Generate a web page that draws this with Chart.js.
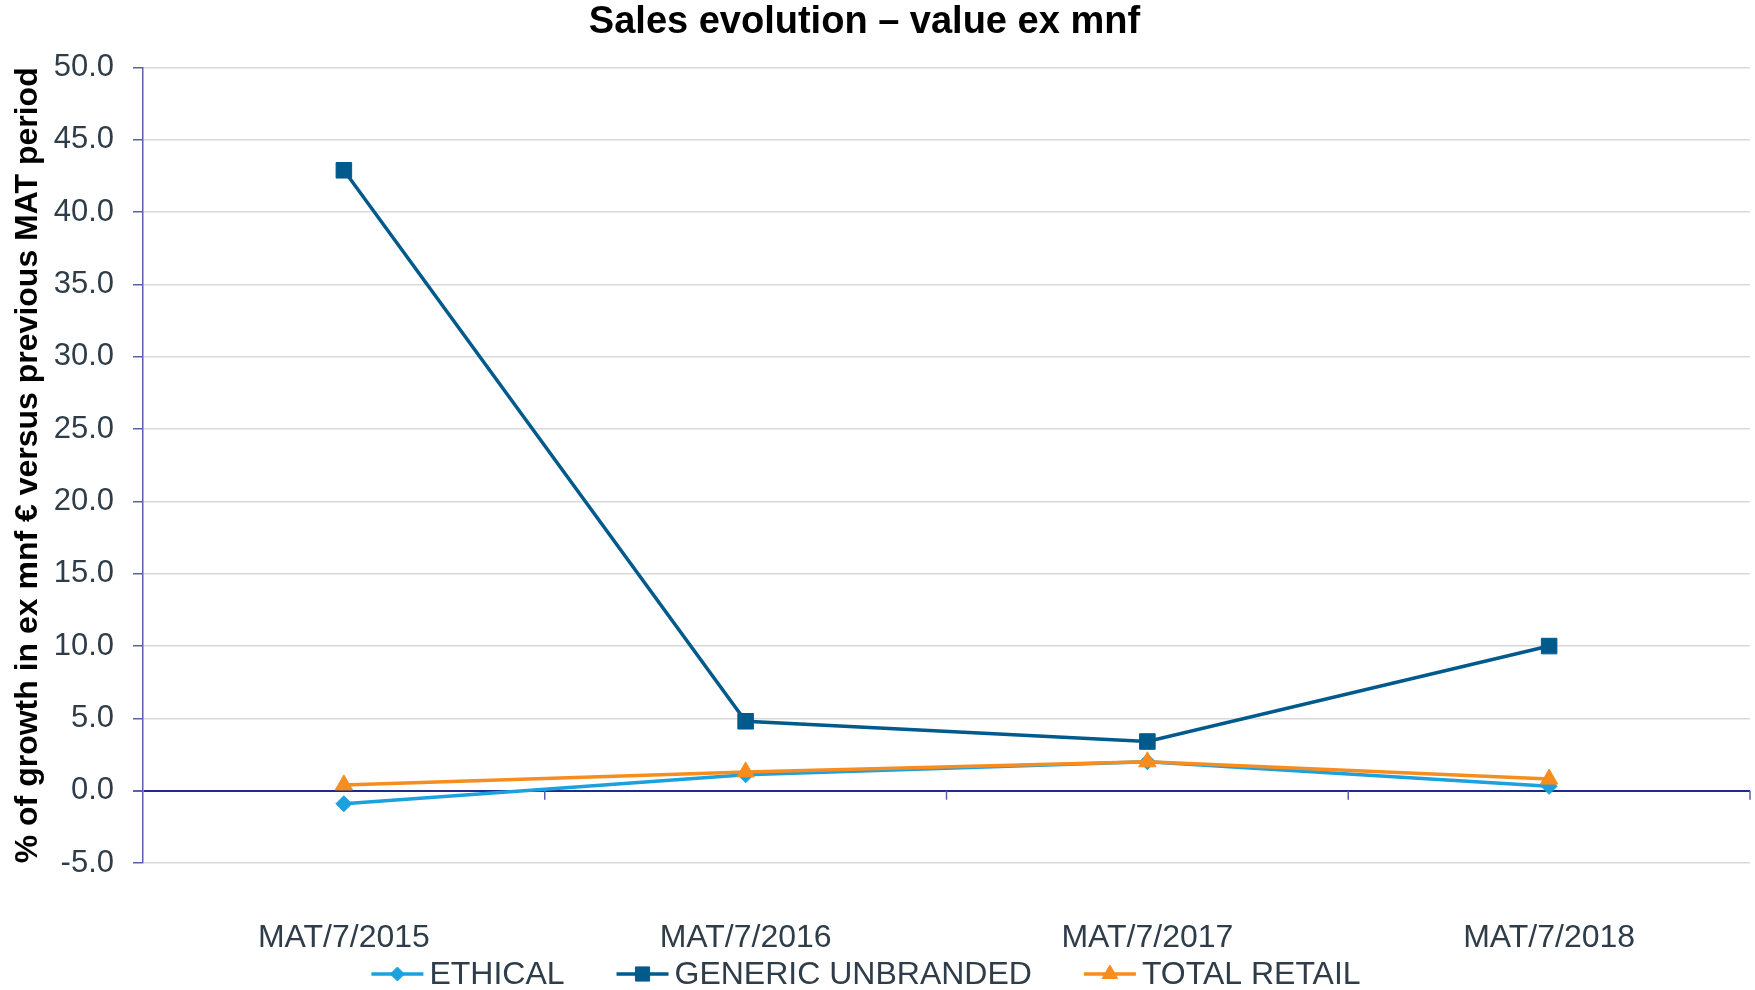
<!DOCTYPE html>
<html>
<head>
<meta charset="utf-8">
<script src="https://cdn.jsdelivr.net/npm/chart.js@4"></script>
<style>
  html, body { margin: 0; padding: 0; background: #fff; overflow: hidden; }
  canvas { display: block; }
</style>
</head>
<body>
<canvas id="salesChart" width="1755" height="990"></canvas>
<script>
const periods = ["MAT/7/2015", "MAT/7/2016", "MAT/7/2017", "MAT/7/2018"];
const ethical = [-0.9, 1.1, 2.0, 0.3];
const genericUnbranded = [42.9, 4.8, 3.4, 10.0];
const totalRetail = [0.4, 1.3, 2.0, 0.8];
const yMin = -5, yMax = 50, yStep = 5;

const FONT = '"Liberation Sans", Arial, sans-serif';
const TEXT = "#2e3d49";
const AXIS = "#5b60a8";
const ZERO = "#1e2a8c";

// small downward tick marks on the zero line, at category boundaries
const zeroTicks = {
  id: "zeroTicks",
  beforeDatasetsDraw(chart) {
    const x = chart.scales.x, y = chart.scales.y, ctx = chart.ctx;
    const y0 = y.getPixelForValue(0);
    const px = periods.map((p, i) => x.getPixelForValue(i));
    const half = (px[1] - px[0]) / 2;
    ctx.save();
    ctx.strokeStyle = AXIS;
    ctx.lineWidth = 1.5;
    px.forEach(p => {
      ctx.beginPath();
      ctx.moveTo(p + half, y0);
      ctx.lineTo(p + half, y0 + 9);
      ctx.stroke();
    });
    ctx.restore();
  }
};

// legend with line + marker, like the office chart
const lineLegend = {
  id: "lineLegend",
  afterDraw(chart) {
    const ctx = chart.ctx;
    ctx.save();
    ctx.font = "32px " + FONT;
    ctx.textBaseline = "middle";
    const lineLen = 52, gap = 6, between = 52;
    const items = chart.data.datasets.map(ds => ({ ds, w: lineLen + gap + ctx.measureText(ds.label).width }));
    const total = items.reduce((s, it) => s + it.w, 0) + between * (items.length - 1);
    let x = 866 - total / 2;
    const y = 974;
    items.forEach(({ ds, w }) => {
      ctx.strokeStyle = ds.borderColor;
      ctx.lineWidth = 3.5;
      ctx.beginPath();
      ctx.moveTo(x, y);
      ctx.lineTo(x + lineLen, y);
      ctx.stroke();
      ctx.fillStyle = ds.borderColor;
      ctx.lineWidth = 1;
      Chart.helpers.drawPoint(ctx, { pointStyle: ds.pointStyle, radius: ds.pointRadius - 1, borderWidth: 1, rotation: 0 }, x + lineLen / 2, y);
      ctx.fillStyle = TEXT;
      ctx.fillText(ds.label, x + lineLen + gap, y + 1);
      x += w + between;
    });
    ctx.restore();
  }
};

new Chart(document.getElementById("salesChart"), {
  type: "line",
  data: {
    labels: periods,
    datasets: [
      { label: "ETHICAL", data: ethical, borderColor: "#1ba1dd", backgroundColor: "#1ba1dd",
        pointStyle: "rectRot", pointRadius: 8, order: 3 },
      { label: "GENERIC UNBRANDED", data: genericUnbranded, borderColor: "#005a8c", backgroundColor: "#005a8c",
        pointStyle: "rect", pointRadius: 11, order: 2 },
      { label: "TOTAL RETAIL", data: totalRetail, borderColor: "#f68d1e", backgroundColor: "#f68d1e",
        pointStyle: "triangle", pointRadius: 10, order: 1 }
    ].map(ds => ({ ...ds, borderWidth: 3.5, pointBorderWidth: 1, pointHoverRadius: ds.pointRadius, tension: 0, fill: false }))
  },
  options: {
    responsive: false,
    animation: false,
    layout: { autoPadding: false, padding: { left: 0, right: 5, top: 0, bottom: 34 } },
    scales: {
      x: {
        offset: true,
        afterFit(scale) {
          scale.height = 93;
          scale.paddingLeft = 0;
          scale.paddingRight = 0;
        },
        grid: { display: false, drawTicks: false },
        border: { display: false },
        ticks: { font: { family: FONT, size: 32 }, color: TEXT, padding: 56, maxRotation: 0 }
      },
      y: {
        min: yMin,
        max: yMax,
        afterFit(scale) { scale.width = 143; },
        grid: {
          color: c => c.tick && c.tick.value === 0 ? ZERO : "#d9d9d9",
          lineWidth: c => c.tick && c.tick.value === 0 ? 2 : 1.5,
          tickColor: AXIS,
          tickLength: 10
        },
        border: { display: true, color: AXIS, width: 1.5 },
        ticks: {
          stepSize: yStep,
          font: { family: FONT, size: 31 },
          color: TEXT,
          padding: 19,
          callback: v => v.toFixed(1)
        },
        title: {
          display: true,
          text: "% of growth in ex mnf € versus previous MAT period",
          font: { family: FONT, size: 32, weight: "bold" },
          color: "#000",
          padding: { top: 9, bottom: 0 }
        }
      }
    },
    plugins: {
      legend: { display: false },
      tooltip: { enabled: false },
      title: {
        display: true,
        text: "Sales evolution – value ex mnf\u00a0\u00a0",
        font: { family: FONT, size: 38, weight: "bold" },
        color: "#000",
        padding: { top: 0, bottom: 22 }
      }
    }
  },
  plugins: [zeroTicks, lineLegend]
});
</script>
</body>
</html>
